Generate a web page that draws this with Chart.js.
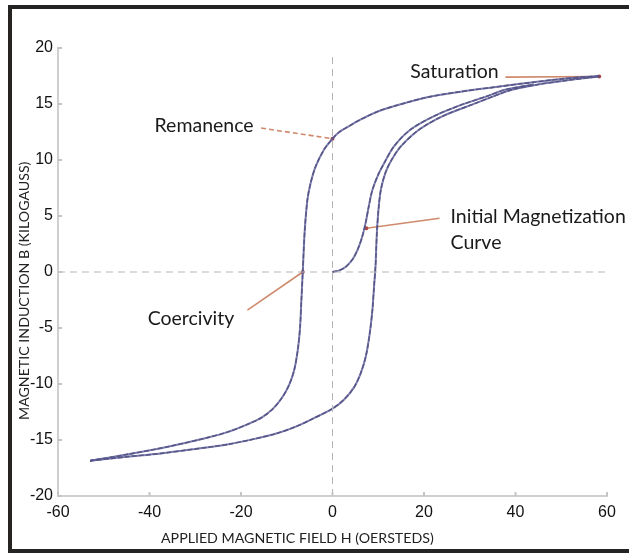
<!DOCTYPE html>
<html>
<head>
<meta charset="utf-8">
<script src="https://cdn.jsdelivr.net/npm/chart.js@4.4.1/dist/chart.umd.min.js"></script>
<style>
  html, body { margin: 0; padding: 0; background: #fff; }
  #wrap { position: relative; width: 629px; height: 557px; }
  #frame { position: absolute; left: 8px; top: 5px; width: 621px; height: 548px;
           border-left: 4px solid #262422; border-top: 4px solid #262422; border-bottom: 4px solid #262422;
           pointer-events: none; box-sizing: border-box; }
</style>
</head>
<body>
<div id="wrap">
  <canvas id="loopChart" width="629" height="557"></canvas>
  <div id="frame"></div>
</div>
<script>
// hysteresis loop (H in oersteds, B in kilogauss)
const descH = [58.3, 50.5, 41, 35.3, 28, 20.7, 13.4, 10, 6.1, 3.5, 1.5, 0, -1.9, -3.7, -4.8, -5.5, -6.1, -6.5, -6.8, -7.1, -7.6, -8.4, -9.5, -11, -13, -15.5, -18.6, -23, -27.4, -36, -45, -53];
const descB = [17.5, 17.25, 16.8, 16.5, 16.1, 15.6, 14.8, 14.35, 13.6, 13.0, 12.5, 11.9, 10.9, 9.4, 7.9, 6.4, 3.5, 0, -2.5, -5, -7, -8.8, -10.1, -11.2, -12.2, -13.0, -13.6, -14.3, -14.8, -15.6, -16.3, -16.85];

const ascH = [-53, -45, -37.6, -30, -23, -17, -12.1, -8, -4.8, 0, 2.5, 4.7, 6.2, 7.3, 8.1, 8.7, 9.1, 9.4, 9.7, 10.1, 10.6, 11.6, 12.9, 14.9, 18.9, 24, 30.2, 35.3, 39, 45, 51, 58.3];
const ascB = [-16.85, -16.5, -16.2, -15.8, -15.4, -14.9, -14.4, -13.8, -13.2, -12.2, -11.4, -10.3, -9.0, -7.5, -5.6, -3.5, -1.2, 0.5, 3.5, 5.8, 7.4, 8.9, 10.0, 11.2, 12.7, 13.9, 14.9, 15.7, 16.25, 16.75, 17.1, 17.45];

const initH = [0, 1.5, 3, 4.5, 5.7, 6.6, 7.3, 7.9, 8.7, 10.0, 11.4, 13.4, 17, 22.1, 28, 33.8, 37.5, 44];
const initB = [0, 0.15, 0.5, 1.2, 2.2, 3.3, 4.5, 5.8, 7.3, 8.7, 9.8, 11.2, 12.7, 13.9, 14.9, 15.7, 16.25, 16.75];

// labelled points: text anchor, leader start and the point it marks
const noteNames = ["Saturation", "Remanence", "Initial Magnetization|Curve", "Coercivity"];
const noteText = [[17, 17.85], [-38.9, 13.1], [25.8, 4.9], [-40.4, -4.2]];
const noteFrom = [[37.8, 17.4], [-15.6, 12.85], [23.4, 4.8], [-18.6, -3.4]];
const noteTo = [[58.3, 17.45], [0, 11.9], [7.4, 3.9], [-6.5, 0]];

const xTicks = [-60, -40, -20, 0, 20, 40, 60];
const yTicks = [-20, -15, -10, -5, 0, 5, 10, 15, 20];

const xTitle = "APPLIED MAGNETIC FIELD H (OERSTEDS)";
const yTitle = "MAGNETIC INDUCTION B (KILOGAUSS)";

const pts = (hs, bs) => hs.map((h, i) => ({ x: h, y: bs[i] }));

function curve(hs, bs) {
    return [
        { data: pts(hs, bs), showLine: true, borderColor: 'rgba(95,95,155,0.8)', borderWidth: 2, pointRadius: 0, tension: 0.3, fill: false },
        { data: pts(hs, bs), showLine: true, borderColor: '#2a2a3e', borderWidth: 1.4, borderDash: [5, 2], pointRadius: 0, tension: 0.3, fill: false }
    ];
}

const datasets = [
    { data: [{ x: 0, y: -20 }, { x: 0, y: 19.6 }], showLine: true, borderColor: '#b5b5b5', borderWidth: 1, borderDash: [7, 5], pointRadius: 0 },
    { data: [{ x: -60, y: 0 }, { x: 60, y: 0 }], showLine: true, borderColor: '#b5b5b5', borderWidth: 1, borderDash: [7, 5], pointRadius: 0 },
    ...curve(descH, descB),
    ...curve(ascH, ascB),
    ...curve(initH, initB)
];

noteFrom.forEach((f, i) => {
    datasets.push({
        data: [{ x: f[0], y: f[1] }, { x: noteTo[i][0], y: noteTo[i][1] }],
        showLine: true, borderColor: '#cf8a6c', borderWidth: 1.6,
        borderDash: i === 1 ? [5, 3] : [],
        pointRadius: [0, 2], pointBackgroundColor: '#b04848', pointBorderWidth: 0
    });
});

const extras = {
    id: 'extras',
    afterDraw(chart) {
        const ctx = chart.ctx;
        const xs = chart.scales.x, ys = chart.scales.y;
        const area = chart.chartArea;
        ctx.save();
        // inward tick marks
        ctx.strokeStyle = '#c4c4c4';
        ctx.lineWidth = 2;
        xTicks.forEach(v => {
            const px = xs.getPixelForValue(v);
            ctx.beginPath(); ctx.moveTo(px, area.bottom); ctx.lineTo(px, area.bottom - 4); ctx.stroke();
        });
        yTicks.forEach(v => {
            const py = ys.getPixelForValue(v);
            ctx.beginPath(); ctx.moveTo(area.left, py); ctx.lineTo(area.left + 4, py); ctx.stroke();
        });
        // annotation texts
        ctx.fillStyle = '#1a1a1a';
        ctx.font = '19.5px Lato, "Noto Sans", sans-serif';
        ctx.textBaseline = 'middle';
        ctx.textAlign = 'left';
        noteNames.forEach((n, i) => {
            const x = xs.getPixelForValue(noteText[i][0]);
            const y = ys.getPixelForValue(noteText[i][1]);
            n.split('|').forEach((line, j) => ctx.fillText(line, x, y + j * 26));
        });
        // axis titles
        ctx.font = '14.2px Lato, "Noto Sans", sans-serif';
        ctx.fillStyle = '#222';
        ctx.textAlign = 'center';
        ctx.fillText(xTitle, area.left + (area.right - area.left) * 0.436, area.bottom + 42);
        ctx.translate(24, area.top + (area.bottom - area.top) * 0.542);
        ctx.rotate(-Math.PI / 2);
        ctx.fillText(yTitle, 0, 0);
        ctx.restore();
    }
};

const tickFont = { family: '"Liberation Sans Narrow", "Liberation Sans", sans-serif', size: 16 };

new Chart(document.getElementById('loopChart'), {
    type: 'scatter',
    data: { datasets: datasets },
    options: {
        responsive: false,
        animation: false,
        layout: { padding: { left: 0, top: 48, right: 22, bottom: 0 } },
        plugins: { legend: { display: false }, tooltip: { enabled: false } },
        scales: {
            x: {
                type: 'linear', min: -60, max: 60,
                afterBuildTicks: s => { s.ticks = xTicks.map(v => ({ value: v })); },
                afterFit: s => { s.height = 61; },
                grid: { drawOnChartArea: false, drawTicks: false },
                border: { display: true, color: '#cfcfcf', width: 2 },
                ticks: { color: '#111', font: tickFont, padding: 7 }
            },
            y: {
                type: 'linear', min: -20, max: 20,
                afterBuildTicks: s => { s.ticks = yTicks.map(v => ({ value: v })); },
                afterFit: s => { s.width = 58; },
                grid: { drawOnChartArea: false, drawTicks: false },
                border: { display: true, color: '#cfcfcf', width: 2 },
                ticks: { color: '#111', font: tickFont, padding: 5 }
            }
        }
    },
    plugins: [extras]
});
</script>
</body>
</html>
